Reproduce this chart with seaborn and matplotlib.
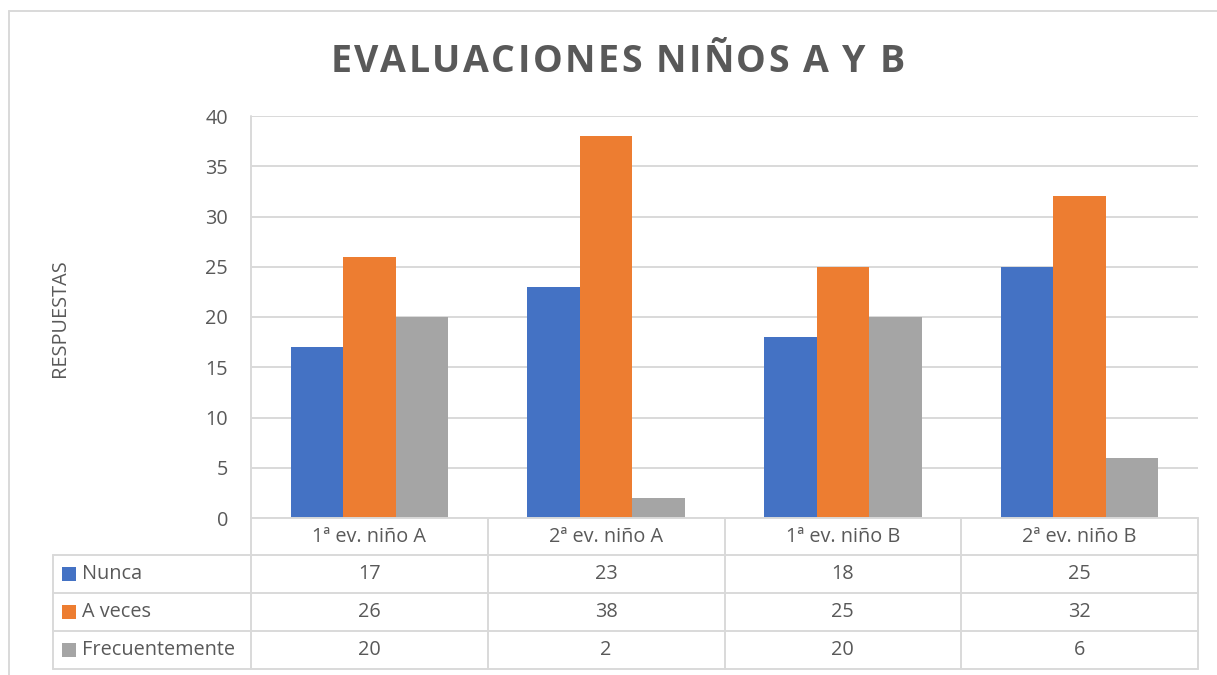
import numpy as np
import pandas as pd
import matplotlib
matplotlib.use("Agg")
import matplotlib.pyplot as plt
import seaborn as sns
from matplotlib.transforms import Affine2D, blended_transform_factory
from matplotlib.lines import Line2D
from matplotlib.patches import Rectangle

# ---- data ----
categories = ["1ª ev. niño A", "2ª ev. niño A", "1ª ev. niño B", "2ª ev. niño B"]
series = ["Nunca", "A veces", "Frecuentemente"]
nunca = [17, 23, 18, 25]
a_veces = [26, 38, 25, 32]
frecuentemente = [20, 2, 20, 6]
colors = ["#4472C4", "#ED7D31", "#A5A5A5"]
yticks = [0, 5, 10, 15, 20, 25, 30, 35, 40]
title = "EVALUACIONES NIÑOS A Y B"
ylabel = "RESPUESTAS"

values = [nunca, a_veces, frecuentemente]
rows = []
for s, vals in zip(series, values):
    for c, v in zip(categories, vals):
        rows.append({"cat": c, "serie": s, "val": v})
df = pd.DataFrame(rows)

sns.set_theme(style="white")
FONT = ["Open Sans", "DejaVu Sans"]
plt.rcParams["font.family"] = FONT
TXT = "#595959"
GRID = "#D9D9D9"
LW = 1.4
FS = 14.3

W, H = 1217, 675
fig = plt.figure(figsize=(W / 100, H / 100), dpi=100)
pix = Affine2D().scale(1 / W, -1 / H).translate(0, 1) + fig.transFigure


def fx(p):
    return p / W


def fy(p):
    return 1 - p / H


ax = fig.add_axes([fx(251), fy(518), fx(1198) - fx(251), fy(116) - fy(518)])
sns.barplot(data=df, x="cat", y="val", hue="serie", order=categories,
            hue_order=series, palette=colors, saturation=1, width=0.665,
            linewidth=0, legend=False, ax=ax, zorder=3)
ax.set_xlim(-0.5, len(categories) - 0.5)
ax.set_ylim(0, 40)
ax.set_yticks(yticks)
ax.set_yticklabels([str(t) for t in yticks])
ax.set_xticks([])
ax.set_xlabel("")
ax.set_ylabel("")
ax.yaxis.grid(True, color=GRID, linewidth=LW, zorder=0)
ax.set_axisbelow(True)
for sp in ax.spines.values():
    sp.set_visible(False)
ax.tick_params(axis="y", length=0, pad=16.5, labelsize=FS, labelcolor=TXT)
ax.set_facecolor("none")

# y label
fig.text(fx(60), fy(318), ylabel, rotation=90, ha="center", va="center",
         fontsize=FS, color=TXT)

# ---- data table ----
bt = blended_transform_factory(ax.transData, pix)
row_edges = [518, 555, 593, 631, 669]
x_edges = [i - 0.5 for i in range(len(categories) + 1)]

# left axis line from top of plot through table
fig.add_artist(Line2D([251, 251], [116, 669], transform=pix, color=GRID, lw=LW))
# horizontal rules
fig.add_artist(Line2D([x_edges[0], x_edges[-1]], [row_edges[0]] * 2,
                      transform=bt, color=GRID, lw=LW))
for y in row_edges[1:]:
    fig.add_artist(Line2D([53, 1198], [y, y], transform=pix, color=GRID, lw=LW))
for x in x_edges[1:]:
    fig.add_artist(Line2D([x, x], [row_edges[0], row_edges[-1]], transform=bt,
                          color=GRID, lw=LW))
fig.add_artist(Line2D([53, 53], [row_edges[1], row_edges[-1]], transform=pix,
                      color=GRID, lw=LW))

# header
hy = (row_edges[0] + row_edges[1]) / 2
for i, c in enumerate(categories):
    fig.text(i, hy, c, transform=bt, ha="center", va="center", fontsize=FS,
             color=TXT)
# rows
for r, (s, vals, col) in enumerate(zip(series, values, colors)):
    cy = (row_edges[r + 1] + row_edges[r + 2]) / 2
    fig.add_artist(Rectangle((62, cy - 7), 14, 14, transform=pix,
                             facecolor=col, edgecolor="none"))
    fig.text(82, cy, s, transform=pix, ha="left", va="center", fontsize=FS,
             color=TXT)
    for i, v in enumerate(vals):
        fig.text(i, cy, str(v), transform=bt, ha="center", va="center",
                 fontsize=FS, color=TXT)

# chart frame
fig.add_artist(Line2D([9, 1217], [11, 11], transform=pix, color=GRID, lw=LW))
fig.add_artist(Line2D([9, 9], [11, 675], transform=pix, color=GRID, lw=LW))

# ---- title with letter spacing ----
renderer = fig.canvas.get_renderer()
tsize = 27
spacing = 2.4
space_w = 9.0
items = []
x = 0.0
for ch in title:
    if ch == " ":
        x += space_w + spacing
        continue
    t = fig.text(0, 0, ch, transform=pix, fontsize=tsize, fontweight="bold",
                 color=TXT, ha="left", va="baseline")
    w = t.get_window_extent(renderer).width
    items.append((t, x))
    x += w + spacing
total = x - spacing
start = 617.5 - total / 2
for t, xo in items:
    t.set_position((start + xo, 72))

fig.savefig("out.png", dpi=100)
